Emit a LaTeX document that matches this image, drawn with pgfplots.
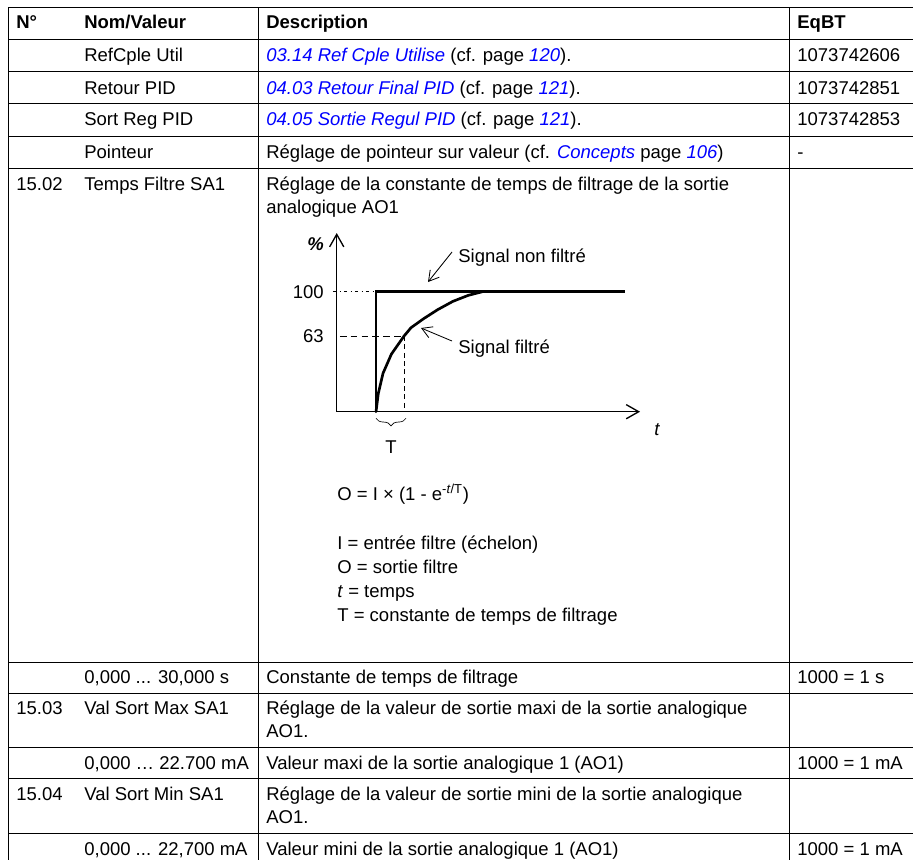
\documentclass[border=0pt]{standalone}
\usepackage{pgfplots}
\pgfplotsset{compat=1.18}
\usepackage{fontspec}
\setmainfont{Liberation Sans}
\usetikzlibrary{arrows.meta,decorations.pathreplacing}
\newcommand\lnk[1]{\textcolor{blue}{\itshape #1}}
\newcommand\fs{\fontsize{11.1}{13}\selectfont}
\begin{document}
\fs
\begin{tikzpicture}
\useasboundingbox (0,0) rectangle (547.8pt,-516pt);
\begin{scope}[x=0.6pt,y=-0.6pt,every node/.style={inner sep=0pt,anchor=base west,font=\fs}]
% table rules
\foreach \yy in {8,40,72,104,136,168,662,693,747,778,833}
  \draw[line width=0.6pt] (8,\yy) -- (913,\yy);
\draw[line width=0.6pt] (8,8) -- (8,860);
\draw[line width=0.6pt] (258,8) -- (258,860);
\draw[line width=0.6pt] (789,8) -- (789,860);
% header
\node at (16,29) {\bfseries N°};
\node at (84,29) {\bfseries Nom/Valeur};
\node at (266,29) {\bfseries Description};
\node at (797,29) {\bfseries EqBT};
% rows
\node at (84,62) {RefCple Util};
\node at (266,62) {\lnk{03.14 Ref Cple Utilise} (cf. page \lnk{120}).};
\node at (797,62) {1073742606};
\node at (84,94) {Retour PID};
\node at (266,94) {\lnk{04.03 Retour Final PID} (cf. page \lnk{121}).};
\node at (797,94) {1073742851};
\node at (84,126) {Sort Reg PID};
\node at (266,126) {\lnk{04.05 Sortie Regul PID} (cf. page \lnk{121}).};
\node at (797,126) {1073742853};
\node at (84,158) {Pointeur};
\node at (266,158) {Réglage de pointeur sur valeur (cf. \lnk{Concepts} page \lnk{106})};
\node at (797,158) {-};
\node at (16,190) {15.02};
\node at (84,190) {Temps Filtre SA1};
\node at (266,190) {Réglage de la constante de temps de filtrage de la sortie};
\node at (266,213) {analogique AO1};
\node at (84,683.5) {0,000 ... 30,000 s};
\node at (266,683.5) {Constante de temps de filtrage};
\node at (797,683.5) {1000 = 1 s};
\node at (16,714) {15.03};
\node at (84,714) {Val Sort Max SA1};
\node at (266,714) {Réglage de la valeur de sortie maxi de la sortie analogique};
\node at (266,737.5) {AO1.};
\node at (84,769) {0,000 … 22.700 mA};
\node at (266,769) {Valeur maxi de la sortie analogique 1 (AO1)};
\node at (797,769) {1000 = 1 mA};
\node at (16,800) {15.04};
\node at (84,800) {Val Sort Min SA1};
\node at (266,800) {Réglage de la valeur de sortie mini de la sortie analogique};
\node at (266,823) {AO1.};
\node at (84,855) {0,000 ... 22,700 mA};
\node at (266,855) {Valeur mini de la sortie analogique 1 (AO1)};
\node at (797,855) {1000 = 1 mA};
% chart annotations
\node at (307,250) {\bfseries\itshape \%};
\node at (458,262) {Signal non filtré};
\node at (458,353) {Signal filtré};
\node at (654,435) {\itshape t};
\node[anchor=base] at (391,453) {T};
\draw[line width=0.5pt,-{Straight Barb[length=6pt,width=7pt]}] (452,252) -- (428,282);
\draw[line width=0.5pt,-{Straight Barb[length=6pt,width=7pt]}] (452,341) -- (421,328);
% formula block
\node at (337,500) {O = I × (1 - e\textsuperscript{-\textit{t}/T})};
\node at (337,549.5) {I = entrée filtre (échelon)};
\node at (337,573.5) {O = sortie filtre};
\node at (337,597.5) {\textit{t} = temps};
\node at (337,621.5) {T = constante de temps de filtrage};
\end{scope}
\begin{axis}[
  at={(202.02pt,-247.02pt)}, anchor=south west,
  x=16.8pt, y=0.72pt,
  xmin=-1.404, xmax=9.43, ymin=0, ymax=148.9,
  enlargelimits=false,
  axis lines=left,
  axis line style={line width=0.9pt,-{Straight Barb[length=7.5pt,width=8.5pt,line width=0.8pt]}},
  xtick=\empty, ytick={63,100}, yticklabels={63,100},
  major tick length=0pt,
  yticklabel style={anchor=east,inner sep=0pt,xshift=-7.6pt,font=\fs},
  clip=false,
]
\addplot[black,line width=0.5pt,dash pattern=on 2pt off 2pt on 0.6pt off 2pt] coordinates {(-1.54,100) (0,100)};
\addplot[black,line width=0.5pt,dash pattern=on 4pt off 2.5pt] coordinates {(-1.29,63) (1.0,63)};
\addplot[black,line width=0.5pt,dash pattern=on 3pt off 2pt] coordinates {(1.0,63) (1.0,0)};
\addplot[black,line width=1.6pt,line join=miter] coordinates {(0,0) (0,100) (8.9,100)};
\addplot[black,line width=1.6pt,line join=round,line cap=round] coordinates {
(0,0) (0.08,15) (0.25,32) (0.55,48) (1.0,63) (1.25,70) (1.7,77.5) (2.2,85) (2.75,92) (3.3,97) (3.8,100)};
\draw[line width=0.4pt,decorate,decoration={brace,mirror,amplitude=4.5pt}] (axis cs:0,-5.5) -- (axis cs:1.07,-5.5);
\end{axis}
\end{tikzpicture}
\end{document}
